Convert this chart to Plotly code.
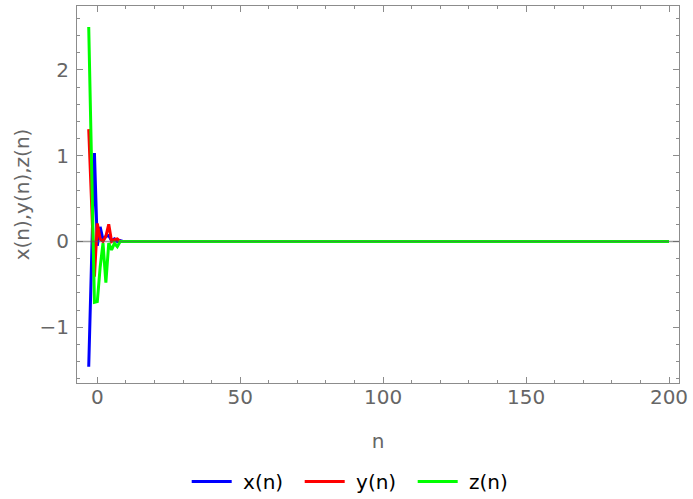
import plotly.graph_objects as go

# index n runs from -3 to 200
n_values = list(range(-3, 201))

# early transient of each sequence (n = -3 .. 8), then settled at zero
x_head = [-1.46, -0.21, 1.03, -0.05, 0.17, 0.02, 0.06, 0.07, 0.01, 0.03, 0.0, 0.01]
y_head = [1.31, 0.45, -0.41, 0.21, 0.03, 0.0, 0.06, 0.2, 0.0, 0.02, 0.03, 0.0]
z_head = [2.5, 0.9, -0.71, -0.70, -0.3, -0.02, -0.48, -0.02, -0.1, -0.02, -0.06, 0.0]

x_vals = x_head + [0.0] * (len(n_values) - len(x_head))
y_vals = y_head + [0.0] * (len(n_values) - len(y_head))
z_vals = z_head + [0.0] * (len(n_values) - len(z_head))

series = [
    ("x(n)", x_vals, "#0000ff"),
    ("y(n)", y_vals, "#ff0000"),
    ("z(n)", z_vals, "#00ff00"),
]

x_ticks = [0, 50, 100, 150, 200]
y_ticks = [-1, 0, 1, 2]

FONT = "DejaVu Sans"
FRAME = "#8c8c8c"
LABEL = "#666666"

fig = go.Figure()
for name, vals, color in series:
    fig.add_trace(go.Scatter(
        x=n_values, y=vals, mode="lines", name="\u00a0" + name,
        line=dict(color=color, width=3),
    ))

# horizontal axis line through the origin, drawn over the curves
fig.add_shape(type="line", xref="paper", yref="y", x0=0, x1=1, y0=0, y1=0,
              line=dict(color="rgba(90,90,90,0.6)", width=1.5), layer="above")

axis_common = dict(
    showgrid=False, zeroline=False, showline=True, linecolor=FRAME, linewidth=1,
    mirror="ticks", ticks="inside", ticklen=6, tickcolor=FRAME, tickwidth=1,
    tickfont=dict(family=FONT, size=20, color=LABEL),
)

fig.update_layout(
    width=693, height=499,
    margin=dict(l=77, r=11, t=5, b=116),
    paper_bgcolor="white", plot_bgcolor="white",
    xaxis=dict(
        range=[-7.1, 203.5], tickvals=x_ticks, ticklabelstandoff=-4,
        minor=dict(dtick=10, tick0=0, ticks="inside", ticklen=3, tickcolor=FRAME),
        title=dict(text="n", font=dict(family=FONT, size=20, color=LABEL), standoff=25),
        **axis_common,
    ),
    yaxis=dict(
        range=[-1.65, 2.745], tickvals=y_ticks, tickformat="d", ticklabelstandoff=3,
        minor=dict(dtick=0.2, tick0=0, ticks="inside", ticklen=3, tickcolor=FRAME),
        title=dict(text="x(n),y(n),z(n)", font=dict(family=FONT, size=20, color=LABEL), standoff=4),
        **axis_common,
    ),
    showlegend=True,
    legend=dict(
        orientation="h", x=0.514, xanchor="center", xref="container",
        y=0.035, yanchor="middle", yref="container",
        itemwidth=40, entrywidth=58, entrywidthmode="pixels",
        font=dict(family=FONT, size=20, color="black"),
        bgcolor="rgba(0,0,0,0)",
    ),
)

fig.write_html("out.html")
